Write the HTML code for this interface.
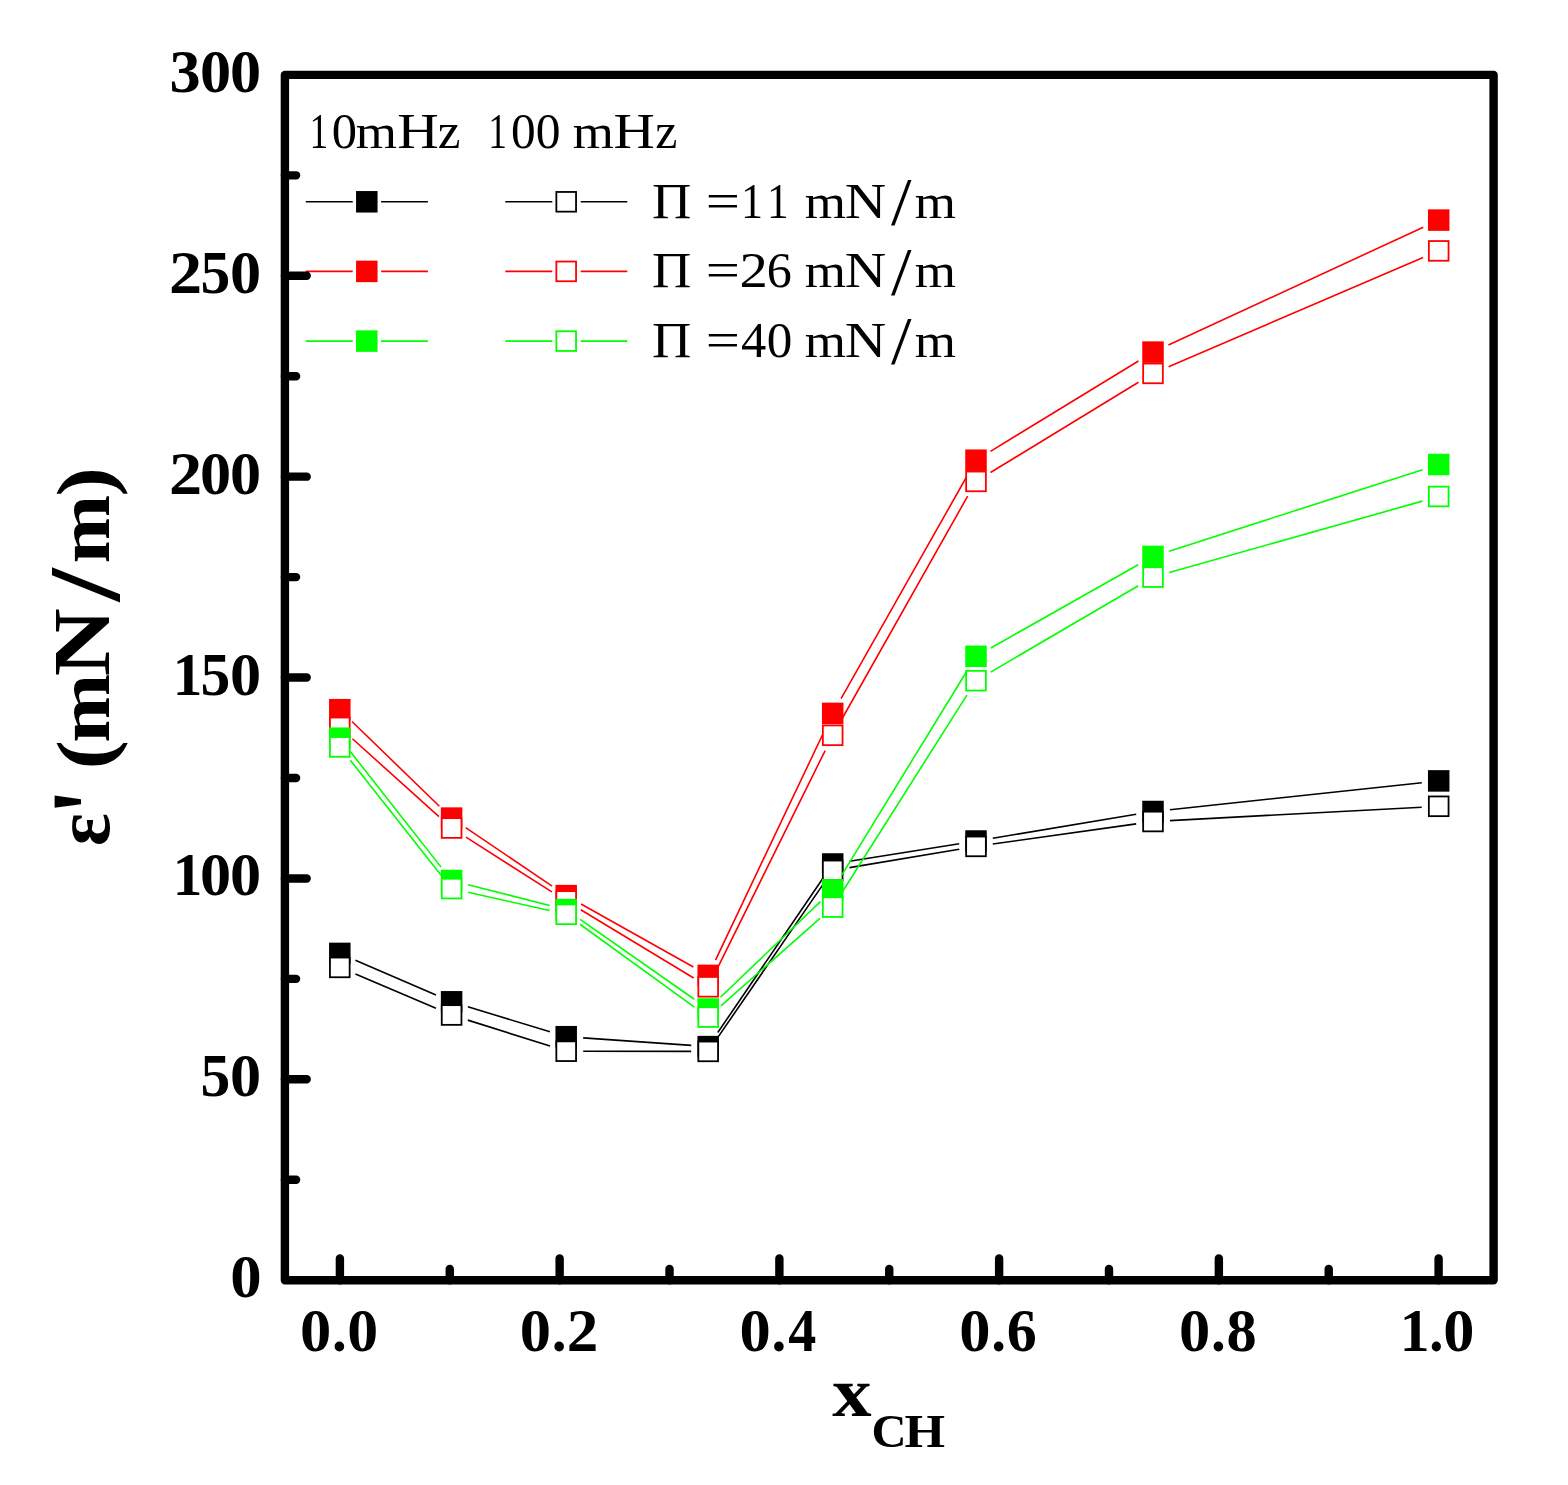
<!DOCTYPE html><html><head><meta charset="utf-8"><title>Plot</title><style>html,body{margin:0;padding:0;background:#fff;}svg{display:block;}</style></head><body>
<svg width="1568" height="1485" viewBox="0 0 1568 1485">
<rect width="100%" height="100%" fill="#fff"/>
<path d="M355.40 960.15L436.00 995.05M467.86 1006.75L549.94 1031.75M583.16 1037.88L691.24 1045.42M717.78 1032.55L823.12 878.05M849.49 861.31L959.21 843.69M992.77 838.21L1136.23 814.29M1169.90 809.69L1421.80 782.71" fill="none" stroke="#000000" stroke-width="1.6"/>
<rect x="329.05" y="942.65" width="21.50" height="21.50" fill="#000000"/><rect x="440.85" y="991.05" width="21.50" height="21.50" fill="#000000"/><rect x="555.45" y="1025.95" width="21.50" height="21.50" fill="#000000"/><rect x="697.45" y="1035.85" width="21.50" height="21.50" fill="#000000"/><rect x="821.95" y="853.25" width="21.50" height="21.50" fill="#000000"/><rect x="965.25" y="830.25" width="21.50" height="21.50" fill="#000000"/><rect x="1142.25" y="800.75" width="21.50" height="21.50" fill="#000000"/><rect x="1427.95" y="770.15" width="21.50" height="21.50" fill="#000000"/>
<path d="M355.44 974.06L435.96 1008.34M467.81 1020.12L549.99 1046.08M583.20 1051.22L691.20 1051.38M717.83 1037.39L823.07 884.41M849.47 867.59L959.23 849.21M992.83 844.03L1136.17 823.87M1169.98 820.60L1421.72 807.20" fill="none" stroke="#000000" stroke-width="1.6"/>
<rect x="329.95" y="957.55" width="19.70" height="19.70" fill="#fff" stroke="#000000" stroke-width="1.8"/><rect x="441.75" y="1005.15" width="19.70" height="19.70" fill="#fff" stroke="#000000" stroke-width="1.8"/><rect x="556.35" y="1041.35" width="19.70" height="19.70" fill="#fff" stroke="#000000" stroke-width="1.8"/><rect x="698.35" y="1041.55" width="19.70" height="19.70" fill="#fff" stroke="#000000" stroke-width="1.8"/><rect x="822.85" y="860.55" width="19.70" height="19.70" fill="#fff" stroke="#000000" stroke-width="1.8"/><rect x="966.15" y="836.55" width="19.70" height="19.70" fill="#fff" stroke="#000000" stroke-width="1.8"/><rect x="1143.15" y="811.65" width="19.70" height="19.70" fill="#fff" stroke="#000000" stroke-width="1.8"/><rect x="1428.85" y="796.45" width="19.70" height="19.70" fill="#fff" stroke="#000000" stroke-width="1.8"/>
<path d="M352.00 721.53L439.40 806.27M465.68 827.62L552.12 886.08M581.02 903.93L693.38 967.07M715.50 960.05L825.40 728.75M841.07 698.61L967.63 474.99M990.51 451.34L1138.49 360.96M1168.43 344.97L1423.27 227.23" fill="none" stroke="#ff0000" stroke-width="1.6"/>
<rect x="329.05" y="698.95" width="21.50" height="21.50" fill="#ff0000"/><rect x="440.85" y="807.35" width="21.50" height="21.50" fill="#ff0000"/><rect x="555.45" y="884.85" width="21.50" height="21.50" fill="#ff0000"/><rect x="697.45" y="964.65" width="21.50" height="21.50" fill="#ff0000"/><rect x="821.95" y="702.65" width="21.50" height="21.50" fill="#ff0000"/><rect x="965.25" y="449.45" width="21.50" height="21.50" fill="#ff0000"/><rect x="1142.25" y="341.35" width="21.50" height="21.50" fill="#ff0000"/><rect x="1427.95" y="209.35" width="21.50" height="21.50" fill="#ff0000"/>
<path d="M352.44 738.77L438.96 816.63M465.94 837.13L551.86 891.87M580.75 909.79L693.65 978.01M715.74 971.56L825.16 750.54M841.06 720.50L967.64 496.20M990.51 472.55L1138.49 382.25M1168.62 366.70L1423.08 257.60" fill="none" stroke="#ff0000" stroke-width="1.6"/>
<rect x="329.95" y="717.55" width="19.70" height="19.70" fill="#fff" stroke="#ff0000" stroke-width="1.8"/><rect x="441.75" y="818.15" width="19.70" height="19.70" fill="#fff" stroke="#ff0000" stroke-width="1.8"/><rect x="556.35" y="891.15" width="19.70" height="19.70" fill="#fff" stroke="#ff0000" stroke-width="1.8"/><rect x="698.35" y="976.95" width="19.70" height="19.70" fill="#fff" stroke="#ff0000" stroke-width="1.8"/><rect x="822.85" y="725.45" width="19.70" height="19.70" fill="#fff" stroke="#ff0000" stroke-width="1.8"/><rect x="966.15" y="471.55" width="19.70" height="19.70" fill="#fff" stroke="#ff0000" stroke-width="1.8"/><rect x="1143.15" y="363.55" width="19.70" height="19.70" fill="#fff" stroke="#ff0000" stroke-width="1.8"/><rect x="1428.85" y="241.05" width="19.70" height="19.70" fill="#fff" stroke="#ff0000" stroke-width="1.8"/>
<path d="M350.30 751.57L441.10 867.13M468.08 884.68L549.72 905.42M580.13 919.35L694.27 999.25M720.48 997.24L820.42 901.56M841.59 875.31L967.11 670.79M990.80 647.94L1138.20 564.76M1169.18 551.19L1422.52 469.71" fill="none" stroke="#00ff00" stroke-width="1.6"/>
<rect x="329.05" y="727.45" width="21.50" height="21.50" fill="#00ff00"/><rect x="440.85" y="869.75" width="21.50" height="21.50" fill="#00ff00"/><rect x="555.45" y="898.85" width="21.50" height="21.50" fill="#00ff00"/><rect x="697.45" y="998.25" width="21.50" height="21.50" fill="#00ff00"/><rect x="821.95" y="879.05" width="21.50" height="21.50" fill="#00ff00"/><rect x="965.25" y="645.55" width="21.50" height="21.50" fill="#00ff00"/><rect x="1142.25" y="545.65" width="21.50" height="21.50" fill="#00ff00"/><rect x="1427.95" y="453.75" width="21.50" height="21.50" fill="#00ff00"/>
<path d="M350.33 760.25L441.07 875.25M468.19 892.32L549.61 910.58M579.97 924.27L694.43 1007.13M720.94 1005.84L819.96 918.36M841.79 892.74L966.91 695.06M990.67 672.11L1138.33 585.69M1169.36 572.48L1422.34 501.12" fill="none" stroke="#00ff00" stroke-width="1.6"/>
<rect x="329.95" y="737.05" width="19.70" height="19.70" fill="#fff" stroke="#00ff00" stroke-width="1.8"/><rect x="441.75" y="878.75" width="19.70" height="19.70" fill="#fff" stroke="#00ff00" stroke-width="1.8"/><rect x="556.35" y="904.45" width="19.70" height="19.70" fill="#fff" stroke="#00ff00" stroke-width="1.8"/><rect x="698.35" y="1007.25" width="19.70" height="19.70" fill="#fff" stroke="#00ff00" stroke-width="1.8"/><rect x="822.85" y="897.25" width="19.70" height="19.70" fill="#fff" stroke="#00ff00" stroke-width="1.8"/><rect x="966.15" y="670.85" width="19.70" height="19.70" fill="#fff" stroke="#00ff00" stroke-width="1.8"/><rect x="1143.15" y="567.25" width="19.70" height="19.70" fill="#fff" stroke="#00ff00" stroke-width="1.8"/><rect x="1428.85" y="486.65" width="19.70" height="19.70" fill="#fff" stroke="#00ff00" stroke-width="1.8"/>
<path d="M305.8 201.8H352.7M381.1 201.8H427.9M505.3 201.8H552.3M580.7 201.8H627.3" stroke="#000000" stroke-width="1.6" fill="none"/>
<rect x="356.05" y="191.05" width="21.50" height="21.50" fill="#000000"/>
<rect x="556.35" y="191.95" width="19.70" height="19.70" fill="#fff" stroke="#000000" stroke-width="1.8"/>
<path d="M305.8 271.4H352.7M381.1 271.4H427.9M505.3 271.4H552.3M580.7 271.4H627.3" stroke="#ff0000" stroke-width="1.6" fill="none"/>
<rect x="356.05" y="260.65" width="21.50" height="21.50" fill="#ff0000"/>
<rect x="556.35" y="261.55" width="19.70" height="19.70" fill="#fff" stroke="#ff0000" stroke-width="1.8"/>
<path d="M305.8 341.1H352.7M381.1 341.1H427.9M505.3 341.1H552.3M580.7 341.1H627.3" stroke="#00ff00" stroke-width="1.6" fill="none"/>
<rect x="356.05" y="330.35" width="21.50" height="21.50" fill="#00ff00"/>
<rect x="556.35" y="331.25" width="19.70" height="19.70" fill="#fff" stroke="#00ff00" stroke-width="1.8"/>
<rect x="284.9" y="74.9" width="1208.70" height="1205.30" fill="none" stroke="#000" stroke-width="8.4" stroke-linejoin="round"/>
<path d="M284.90 1179.76H296.10M284.90 1079.32H306.70M284.90 978.87H296.10M284.90 878.43H306.70M284.90 777.99H296.10M284.90 677.55H306.70M284.90 577.10H296.10M284.90 476.66H306.70M284.90 376.22H296.10M284.90 275.78H306.70M284.90 175.33H296.10M339.90 1280.20V1258.40M449.77 1280.20V1269.00M559.64 1280.20V1258.40M669.51 1280.20V1269.00M779.38 1280.20V1258.40M889.25 1280.20V1269.00M999.12 1280.20V1258.40M1108.99 1280.20V1269.00M1218.86 1280.20V1258.40M1328.73 1280.20V1269.00M1438.60 1280.20V1258.40" stroke="#000" stroke-width="8.4" stroke-linecap="round" fill="none"/>
<g font-family="'Liberation Serif', serif" font-weight="bold" font-size="61.5" fill="#000">
<text><tspan x="230.21" y="1297.20" font-size="61.50" textLength="31.38" lengthAdjust="spacingAndGlyphs">0</tspan></text>
<text><tspan x="200.52" y="1096.32" font-size="61.50" textLength="29.76" lengthAdjust="spacingAndGlyphs">5</tspan><tspan x="230.13" y="1096.32" font-size="61.50" textLength="31.14" lengthAdjust="spacingAndGlyphs">0</tspan></text>
<text><tspan x="172.86" y="895.43" font-size="61.50" textLength="29.61" lengthAdjust="spacingAndGlyphs">1</tspan><tspan x="200.13" y="895.43" font-size="61.50" textLength="31.14" lengthAdjust="spacingAndGlyphs">0</tspan><tspan x="230.13" y="895.43" font-size="61.50" textLength="31.14" lengthAdjust="spacingAndGlyphs">0</tspan></text>
<text><tspan x="172.86" y="694.55" font-size="61.50" textLength="29.61" lengthAdjust="spacingAndGlyphs">1</tspan><tspan x="200.52" y="694.55" font-size="61.50" textLength="29.76" lengthAdjust="spacingAndGlyphs">5</tspan><tspan x="230.13" y="694.55" font-size="61.50" textLength="31.14" lengthAdjust="spacingAndGlyphs">0</tspan></text>
<text><tspan x="169.12" y="493.66" font-size="61.50" textLength="33.13" lengthAdjust="spacingAndGlyphs">2</tspan><tspan x="200.13" y="493.66" font-size="61.50" textLength="31.14" lengthAdjust="spacingAndGlyphs">0</tspan><tspan x="230.13" y="493.66" font-size="61.50" textLength="31.14" lengthAdjust="spacingAndGlyphs">0</tspan></text>
<text><tspan x="169.12" y="292.78" font-size="61.50" textLength="33.13" lengthAdjust="spacingAndGlyphs">2</tspan><tspan x="200.52" y="292.78" font-size="61.50" textLength="29.76" lengthAdjust="spacingAndGlyphs">5</tspan><tspan x="230.13" y="292.78" font-size="61.50" textLength="31.14" lengthAdjust="spacingAndGlyphs">0</tspan></text>
<text><tspan x="169.56" y="91.89" font-size="61.50" textLength="31.18" lengthAdjust="spacingAndGlyphs">3</tspan><tspan x="200.13" y="91.89" font-size="61.50" textLength="31.14" lengthAdjust="spacingAndGlyphs">0</tspan><tspan x="229.93" y="91.89" font-size="61.50" textLength="31.14" lengthAdjust="spacingAndGlyphs">0</tspan></text>
<text><tspan x="300.02" y="1350.80" font-size="61.50" textLength="31.26" lengthAdjust="spacingAndGlyphs">0</tspan><tspan x="332.00" y="1350.80" font-size="61.50" textLength="14.80" lengthAdjust="spacingAndGlyphs">.</tspan><tspan x="347.25" y="1350.80" font-size="61.50" textLength="30.91" lengthAdjust="spacingAndGlyphs">0</tspan></text>
<text><tspan x="519.76" y="1350.80" font-size="61.50" textLength="31.26" lengthAdjust="spacingAndGlyphs">0</tspan><tspan x="551.74" y="1350.80" font-size="61.50" textLength="14.80" lengthAdjust="spacingAndGlyphs">.</tspan><tspan x="566.69" y="1350.80" font-size="61.50" textLength="31.56" lengthAdjust="spacingAndGlyphs">2</tspan></text>
<text><tspan x="739.50" y="1350.80" font-size="61.50" textLength="31.26" lengthAdjust="spacingAndGlyphs">0</tspan><tspan x="771.48" y="1350.80" font-size="61.50" textLength="14.80" lengthAdjust="spacingAndGlyphs">.</tspan><tspan x="788.31" y="1350.80" font-size="61.50" textLength="28.01" lengthAdjust="spacingAndGlyphs">4</tspan></text>
<text><tspan x="959.24" y="1350.80" font-size="61.50" textLength="31.26" lengthAdjust="spacingAndGlyphs">0</tspan><tspan x="991.22" y="1350.80" font-size="61.50" textLength="14.80" lengthAdjust="spacingAndGlyphs">.</tspan><tspan x="1006.77" y="1350.80" font-size="61.50" textLength="30.01" lengthAdjust="spacingAndGlyphs">6</tspan></text>
<text><tspan x="1178.98" y="1350.80" font-size="61.50" textLength="31.26" lengthAdjust="spacingAndGlyphs">0</tspan><tspan x="1210.96" y="1350.80" font-size="61.50" textLength="14.80" lengthAdjust="spacingAndGlyphs">.</tspan><tspan x="1226.55" y="1350.80" font-size="61.50" textLength="30.21" lengthAdjust="spacingAndGlyphs">8</tspan></text>
<text><tspan x="1399.71" y="1350.80" font-size="61.50" textLength="29.88" lengthAdjust="spacingAndGlyphs">1</tspan><tspan x="1429.31" y="1350.80" font-size="61.50" textLength="14.19" lengthAdjust="spacingAndGlyphs">.</tspan><tspan x="1443.23" y="1350.80" font-size="61.50" textLength="31.14" lengthAdjust="spacingAndGlyphs">0</tspan></text>
</g>
<g font-family="'Liberation Serif', serif" font-size="50.5" fill="#000">
<text><tspan x="309.40" y="147.90" font-size="50.50" textLength="18.75" lengthAdjust="spacingAndGlyphs">1</tspan><tspan x="331.68" y="147.90" font-size="50.50" textLength="25.25" lengthAdjust="spacingAndGlyphs">0</tspan><tspan x="355.89" y="147.90" font-size="47.75" textLength="41.24" lengthAdjust="spacingAndGlyphs">m</tspan><tspan x="397.24" y="147.90" font-size="50.50" textLength="41.54" lengthAdjust="spacingAndGlyphs">H</tspan><tspan x="437.83" y="147.90" font-size="50.50" textLength="22.70" lengthAdjust="spacingAndGlyphs">z</tspan></text>
<text><tspan x="488.30" y="147.80" font-size="50.50" textLength="18.75" lengthAdjust="spacingAndGlyphs">1</tspan><tspan x="510.92" y="147.80" font-size="50.50" textLength="24.66" lengthAdjust="spacingAndGlyphs">0</tspan><tspan x="535.81" y="147.80" font-size="50.50" textLength="24.77" lengthAdjust="spacingAndGlyphs">0</tspan> <tspan x="572.89" y="147.80" font-size="47.75" textLength="41.14" lengthAdjust="spacingAndGlyphs">m</tspan><tspan x="613.45" y="147.80" font-size="50.50" textLength="41.33" lengthAdjust="spacingAndGlyphs">H</tspan><tspan x="655.26" y="147.80" font-size="50.50" textLength="22.13" lengthAdjust="spacingAndGlyphs">z</tspan></text>
<text><tspan x="652.13" y="217.90" font-size="50.50" textLength="39.37" lengthAdjust="spacingAndGlyphs">Π</tspan> <tspan x="705.78" y="217.90" font-size="50.50" textLength="34.18" lengthAdjust="spacingAndGlyphs">=</tspan><tspan x="740.93" y="217.90" font-size="50.50" textLength="22.01" lengthAdjust="spacingAndGlyphs">1</tspan><tspan x="766.98" y="217.90" font-size="50.50" textLength="21.73" lengthAdjust="spacingAndGlyphs">1</tspan> <tspan x="804.69" y="217.90" font-size="47.75" textLength="41.24" lengthAdjust="spacingAndGlyphs">m</tspan><tspan x="844.85" y="217.90" font-size="50.50" textLength="41.47" lengthAdjust="spacingAndGlyphs">N</tspan><tspan x="891.00" y="224.45" font-size="66.82" textLength="20.50" lengthAdjust="spacingAndGlyphs">/</tspan><tspan x="914.79" y="217.90" font-size="47.75" textLength="41.24" lengthAdjust="spacingAndGlyphs">m</tspan></text>
<text><tspan x="652.13" y="287.10" font-size="50.50" textLength="39.37" lengthAdjust="spacingAndGlyphs">Π</tspan> <tspan x="705.78" y="287.10" font-size="50.50" textLength="34.18" lengthAdjust="spacingAndGlyphs">=</tspan><tspan x="739.41" y="287.10" font-size="50.50" textLength="28.31" lengthAdjust="spacingAndGlyphs">2</tspan><tspan x="766.85" y="287.10" font-size="50.50" textLength="25.04" lengthAdjust="spacingAndGlyphs">6</tspan> <tspan x="804.69" y="287.10" font-size="47.75" textLength="41.24" lengthAdjust="spacingAndGlyphs">m</tspan><tspan x="844.85" y="287.10" font-size="50.50" textLength="41.47" lengthAdjust="spacingAndGlyphs">N</tspan><tspan x="891.00" y="293.65" font-size="66.82" textLength="20.50" lengthAdjust="spacingAndGlyphs">/</tspan><tspan x="914.79" y="287.10" font-size="47.75" textLength="41.24" lengthAdjust="spacingAndGlyphs">m</tspan></text>
<text><tspan x="652.13" y="356.70" font-size="50.50" textLength="39.37" lengthAdjust="spacingAndGlyphs">Π</tspan> <tspan x="705.78" y="356.70" font-size="50.50" textLength="34.18" lengthAdjust="spacingAndGlyphs">=</tspan><tspan x="740.91" y="356.70" font-size="50.50" textLength="25.28" lengthAdjust="spacingAndGlyphs">4</tspan><tspan x="766.75" y="356.70" font-size="50.50" textLength="25.60" lengthAdjust="spacingAndGlyphs">0</tspan> <tspan x="804.69" y="356.70" font-size="47.75" textLength="41.24" lengthAdjust="spacingAndGlyphs">m</tspan><tspan x="844.85" y="356.70" font-size="50.50" textLength="41.47" lengthAdjust="spacingAndGlyphs">N</tspan><tspan x="891.00" y="363.25" font-size="66.82" textLength="20.50" lengthAdjust="spacingAndGlyphs">/</tspan><tspan x="914.79" y="356.70" font-size="47.75" textLength="41.24" lengthAdjust="spacingAndGlyphs">m</tspan></text>
</g>
<text font-family="'Liberation Serif', serif" font-weight="bold" fill="#000"><tspan x="832.19" y="1415.70" font-size="69.50" textLength="39.33" lengthAdjust="spacingAndGlyphs">x</tspan><tspan x="871.63" y="1446.60" font-size="46.30" textLength="35.07" lengthAdjust="spacingAndGlyphs">C</tspan><tspan x="904.41" y="1446.60" font-size="46.30" textLength="40.56" lengthAdjust="spacingAndGlyphs">H</tspan></text>
<text transform="translate(109.3,0) rotate(-90)" font-family="'Liberation Serif', serif" font-weight="bold" font-size="78" fill="#000"><tspan x="-846.00" y="0.00" font-size="77.60" textLength="32.88" lengthAdjust="spacingAndGlyphs">ε</tspan><tspan x="-815.14" y="18.90" font-size="112.41" textLength="27.13" lengthAdjust="spacingAndGlyphs">'</tspan> <tspan x="-769.35" y="2.00" font-size="78.00" textLength="29.17" lengthAdjust="spacingAndGlyphs">(</tspan><tspan x="-742.83" y="0.00" font-size="74.50" textLength="69.04" lengthAdjust="spacingAndGlyphs">m</tspan><tspan x="-676.29" y="0.00" font-size="79.70" textLength="68.04" lengthAdjust="spacingAndGlyphs">N</tspan><tspan x="-601.25" y="9.82" font-size="100.83" textLength="32.83" lengthAdjust="spacingAndGlyphs">/</tspan><tspan x="-563.41" y="0.00" font-size="74.50" textLength="68.62" lengthAdjust="spacingAndGlyphs">m</tspan><tspan x="-496.64" y="2.00" font-size="78.00" textLength="29.30" lengthAdjust="spacingAndGlyphs">)</tspan></text>
</svg></body></html>
